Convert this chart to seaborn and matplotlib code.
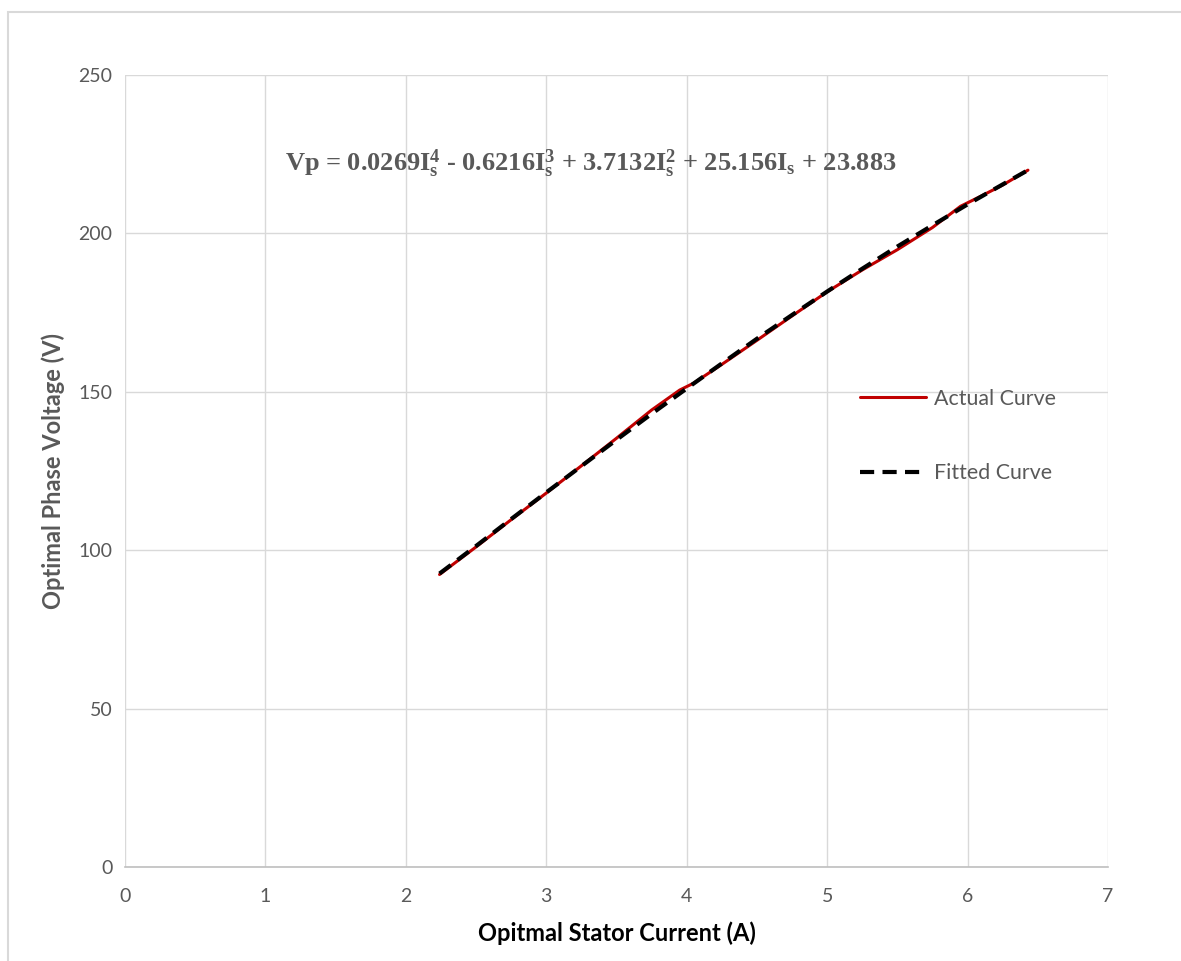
import matplotlib
matplotlib.use("Agg")
import matplotlib.pyplot as plt
import seaborn as sns
import pandas as pd
from matplotlib.patches import Rectangle

# values
current_actual = [2.24, 2.5, 2.75, 3.0, 3.25, 3.5, 3.75, 3.95, 4.05, 4.25, 4.5,
                  4.75, 5.0, 5.25, 5.5, 5.75, 5.95, 6.1, 6.25, 6.43]
voltage_actual = [92.3, 101.0, 109.6, 118.0, 126.6, 135.3, 144.2, 150.5, 152.7, 158.6, 166.2,
                  173.9, 181.5, 188.4, 194.8, 201.8, 208.5, 211.8, 215.2, 219.9]

current_fit = [2.24, 2.5, 2.75, 3.0, 3.25, 3.5, 3.75, 4.0, 4.25, 4.5, 4.75,
               5.0, 5.25, 5.5, 5.75, 6.0, 6.25, 6.43]
voltage_fit = [92.6, 101.3, 109.8, 118.2, 126.5, 134.8, 143.0, 151.0, 158.9, 166.7, 174.2,
               181.6, 188.8, 195.8, 202.5, 209.1, 215.4, 219.9]

series_names = ["Actual Curve", "Fitted Curve"]
x_ticks = [0, 1, 2, 3, 4, 5, 6, 7]
y_ticks = [0, 50, 100, 150, 200, 250]

equation = ("Vp = 0.0269I$_s^4$ - 0.6216I$_s^3$ + 3.7132I$_s^2$"
            " + 25.156I$_s$ + 23.883")

sns.set_theme(style="whitegrid")
plt.rcParams["font.family"] = ["Lato", "DejaVu Sans"]
plt.rcParams["mathtext.fontset"] = "custom"
plt.rcParams["mathtext.rm"] = "Liberation Serif:bold"
plt.rcParams["mathtext.it"] = "Liberation Serif:bold"
plt.rcParams["mathtext.bf"] = "Liberation Serif:bold"

grey_text = "#595959"
grid_col = "#d9d9d9"

fig = plt.figure(figsize=(11.81, 9.61), dpi=100)
ax = fig.add_axes([0.1058, 0.0978, 0.8324, 0.8244])

# outer chart frame
fig.patches.append(Rectangle((0.007, -0.05), 1.1, 1.038, transform=fig.transFigure,
                             fill=False, edgecolor=grid_col, linewidth=1.5))

df_actual = pd.DataFrame({"I": current_actual, "V": voltage_actual})
df_fit = pd.DataFrame({"I": current_fit, "V": voltage_fit})

sns.lineplot(data=df_actual, x="I", y="V", ax=ax, color="#c00000",
             linewidth=2.2, label=series_names[0], sort=False)
sns.lineplot(data=df_fit, x="I", y="V", ax=ax, color="black",
             linewidth=3.0, dashes=False, label=series_names[1], sort=False)
ax.lines[1].set_dashes((3.4, 2.0))

ax.set_xlim(0, 7)
ax.set_ylim(0, 250)
ax.set_xticks(x_ticks)
ax.set_yticks(y_ticks)
ax.grid(True, color=grid_col, linewidth=1.0)
for side in ["top", "right", "left"]:
    ax.spines[side].set_visible(False)
ax.spines["bottom"].set_color("#bfbfbf")
ax.spines["bottom"].set_linewidth(1.2)
ax.tick_params(axis="both", colors=grey_text, labelsize=14, length=0)
ax.tick_params(axis="x", pad=15)
ax.tick_params(axis="y", pad=9)

ax.set_xlabel("Opitmal Stator Current (A)", fontsize=17, fontweight="bold",
              color="black", labelpad=12)
ax.set_ylabel("Optimal Phase Voltage (V)", fontsize=17, fontweight="bold",
              color=grey_text, labelpad=10)

ax.text(3.32, 222, equation, ha="center", va="center", fontsize=19,
        fontfamily="Liberation Serif", fontweight="bold", color=grey_text)

leg = ax.legend(loc="upper left", bbox_to_anchor=(0.737, 0.617), frameon=False,
                fontsize=15.4, handlelength=3.1, handletextpad=0.37,
                labelspacing=2.55, borderpad=0)
for t in leg.get_texts():
    t.set_color(grey_text)

fig.savefig("out.png", dpi=100)
